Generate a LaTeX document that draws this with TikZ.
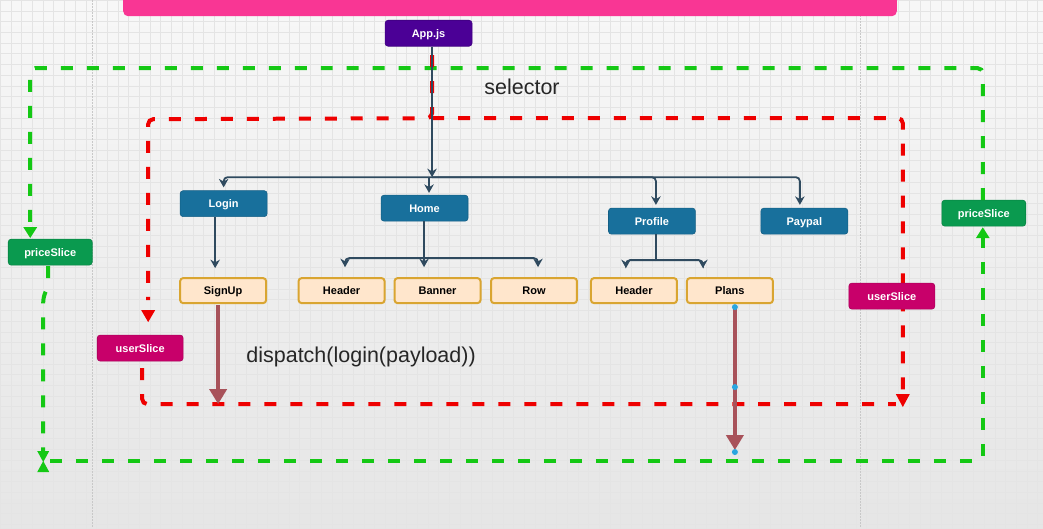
\documentclass[tikz,border=0pt]{standalone}
\usepackage{fontspec}
\setmainfont{Liberation Sans}
\usetikzlibrary{arrows.meta,calc}
\definecolor{pinkbar}{HTML}{F93694}
\definecolor{apppurple}{HTML}{4B0096}
\definecolor{nodeblue}{HTML}{18709C}
\definecolor{orfill}{HTML}{FFE6CC}
\definecolor{ordraw}{HTML}{D9A531}
\definecolor{userc}{HTML}{C8006A}
\definecolor{pricec}{HTML}{0A9A4F}
\definecolor{brownc}{HTML}{A8525A}
\definecolor{treec}{HTML}{2F4A5F}
\definecolor{gdashc}{HTML}{14C814}
\definecolor{rdashc}{HTML}{EE0000}
\definecolor{gridc}{HTML}{E4E4E4}
\definecolor{dotc}{HTML}{C8C8C8}
\definecolor{handlec}{HTML}{2AA6E0}
\tikzset{
  box/.style={rounded corners=3pt, inner sep=0pt, font=\bfseries\fontsize{11}{12}\selectfont, text=white, text height=8pt, text depth=0pt},
  bluebox/.style={box, fill=nodeblue, draw=nodeblue!85!black, line width=0.6pt, minimum width=87pt, minimum height=26pt},
  purplebox/.style={bluebox, fill=apppurple, draw=apppurple!85!black},
  orangebox/.style={box, fill=orfill, draw=ordraw, line width=2pt, text=black, minimum width=86pt, minimum height=25pt},
  userbox/.style={bluebox, fill=userc, draw=userc!85!black, minimum width=86pt},
  pricebox/.style={bluebox, fill=pricec, draw=pricec!85!black, minimum width=84pt},
  tree/.style={draw=treec, line width=1.8pt, rounded corners=4pt},
  treetip/.style={tree, -{Stealth[length=8.5pt,width=9.5pt]}},
  gdash/.style={draw=gdashc, line width=4pt, dash pattern=on 12pt off 14pt, rounded corners=5pt},
  rdash/.style={draw=rdashc, line width=4pt, dash pattern=on 12pt off 14pt, rounded corners=5pt},
  gtip/.style={-{Triangle[length=11pt,width=13pt]}},
  brownarrow/.style={draw=brownc, line width=4pt, -{Triangle[length=15pt,width=17pt]}},
  bigtext/.style={font=\fontsize{21.5}{24}\selectfont, text=black!85, inner sep=0pt},
  handle/.style={circle, fill=handlec, inner sep=0pt, minimum size=6pt}
}
\begin{document}
\begin{tikzpicture}[x=1pt,y=-1pt]
% background
\shade[top color=white!97!black, bottom color=white!90!black] (0,0) rectangle (1043,528);
\draw[gridc, line width=0.5pt, step=10.7pt] (0,0) grid (1043,528);
\useasboundingbox (0,0) rectangle (1043,528);
\draw[dotc, line width=0.7pt, dash pattern=on 1.5pt off 1.5pt] (92,0) -- (92,528);
\draw[dotc, line width=0.7pt, dash pattern=on 1.5pt off 1.5pt] (860,0) -- (860,528);
% pink bar
\fill[pinkbar, rounded corners=5pt] (123,-10) rectangle (897,16);

% coordinates of loops
\coordinate (gTL) at (30,68);
\coordinate (gTR) at (983,68);
\coordinate (gBL) at (43,461);
\coordinate (gBR) at (983,461);
\coordinate (rTop) at (432,118);
\coordinate (rTL) at (148,119);
\coordinate (rTR) at (903,118);
\coordinate (rBL) at (142,404);
\coordinate (rBR) at (903,404);

% slice nodes
\node[pricebox] (psL) at (50,252) {priceSlice};
\node[pricebox] (psR) at (984,213) {priceSlice};
\node[userbox] (usL) at (140,348) {userSlice};

% green loop
\draw[gdash, gtip] (983,200) -- (gTR) -- (gTL) -- (30,238);
\draw[gdash] (48,266) -- (48,286) -- (43,297) -- (43,452);
\fill[gdashc] (37,451) -- (49,451) -- (43,462) -- cycle;
\fill[gdashc] (37,472) -- (49,472) -- (43,461) -- cycle;
\draw[gdash, gtip] (50,461) -- (gBR) -- (983,227);

% red loop
\draw[rdash] (432,55) -- (rTop) -- (rTL) -- (148,300);
\fill[rdashc] (141,310) -- (155,310) -- (148,322) -- cycle;
\draw[rdash] (rTop) -- (rTR) -- (903,395);
\fill[rdashc] (896,394) -- (910,394) -- (903,407) -- cycle;
\draw[rdash] (142,368) -- (rBL) -- (896,404);

\node[userbox] (usR) at (892,296) {userSlice};

% tree nodes
\node[purplebox] (app) at (428.5,33) {App.js};
\node[bluebox] (login) at (223.5,203.5) {Login};
\node[bluebox] (home) at (424.5,208) {Home};
\node[bluebox] (profile) at (652,221) {Profile};
\node[bluebox] (paypal) at (804.5,221) {Paypal};
\node[orangebox] (signup) at (223,290.5) {SignUp};
\node[orangebox] (hdr1) at (341.5,290.5) {Header};
\node[orangebox] (banner) at (437.5,290.5) {Banner};
\node[orangebox] (row) at (534,290.5) {Row};
\node[orangebox] (hdr2) at (634,290.5) {Header};
\node[orangebox] (plans) at (730,290.5) {Plans};

% tree connectors
\coordinate (bus) at (432,177);
\draw[treetip] ([xshift=3.5pt]app.south) -- (bus);
\draw[treetip, shorten >=3pt] (bus) -| (login.north);
\draw[treetip, shorten >=2pt] ($(bus)+(-3,0)$) -- ($(bus |- home.north)+(-3,0)$);
\draw[treetip, shorten >=3pt] (bus) -| ($(profile.north)+(4,0)$);
\draw[treetip, shorten >=3pt] (bus) -| ($(paypal.north)+(-4.5,0)$);

\draw[treetip, shorten >=9pt] ($(login.south)+(-8.5,0)$) -- ($(signup.north)+(-8,0)$);

\coordinate (hb) at (424,258);
\draw[tree] ($(home.south)+(-0.5,0)$) -- (hb);
\draw[treetip, shorten >=10pt] (hb) -| ($(hdr1.north)+(3.5,0)$);
\draw[treetip, shorten >=10pt] (hb) -- (hb |- banner.north);
\draw[treetip, shorten >=10pt] (hb) -| ($(row.north)+(4,0)$);

\coordinate (pb) at (656,260);
\draw[tree] (pb |- profile.south) -- (pb);
\draw[treetip, shorten >=9pt] (pb) -| ($(hdr2.north)+(-8,0)$);
\draw[treetip, shorten >=9pt] (pb) -| ($(plans.north)+(-27,0)$);

% dispatch arrows
\coordinate (sd) at (218,404);
\draw[brownarrow] ($(signup.south)+(-5,1)$) -- (sd);
\coordinate (pd) at (735,452);
\coordinate (pm) at (735,387);
\draw[brownarrow] ($(plans.south)+(5,3)$) -- ($(pd)+(0,-2)$);
\node[handle] at ($(plans.south)+(5,3)$) {};
\node[handle] at (pm) {};
\node[handle] at (pd) {};

% labels
\node[bigtext] (sel) at (522,87) {selector};
\node[bigtext] (disp) at (361,357) {dispatch(login(payload))};
\end{tikzpicture}
\end{document}
